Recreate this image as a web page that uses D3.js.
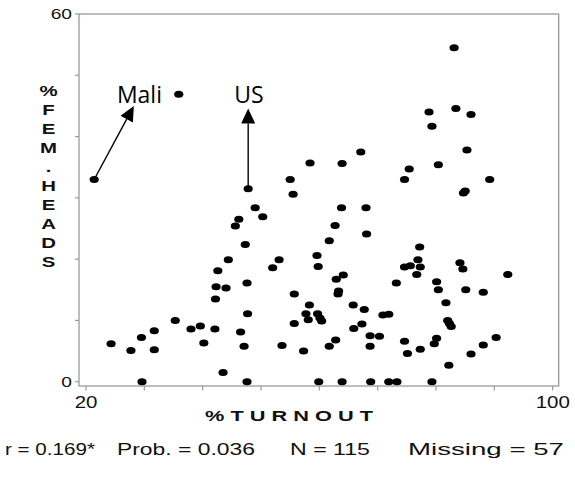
<!DOCTYPE html>
<html>
<head>
<meta charset="utf-8">
<script src="https://cdn.jsdelivr.net/npm/d3@7/dist/d3.min.js"></script>
<style>
  html, body { margin: 0; padding: 0; background: #fff; }
  svg { display: block; }
</style>
</head>
<body>
<svg id="chart" width="575" height="484"></svg>
<script>
// Turnout (%) vs. female-headed households (%), one dot per country
const turnout = [
  21.4, 35.9, 47.8, 46.2, 45.6, 47.3, 44.4, 42.6, 42.3, 44.0,
  47.6, 42.2, 47.7, 35.3, 38.0, 39.6, 42.1, 46.5, 31.7, 29.5,
  24.3, 27.7, 31.7, 40.2, 47.1, 43.5, 29.6, 47.6, 49.0, 50.3,
  52.0, 53.1, 55.7, 55.7, 53.6, 55.0, 55.5, 58.4, 63.9, 67.1,
  63.8, 68.0, 68.1, 62.7, 61.7, 59.6, 59.8, 64.1, 62.9, 63.3,
  63.2, 58.3, 57.7, 59.7, 58.1, 60.1, 60.4, 65.8, 67.7, 67.3,
  65.9, 57.3, 62.8, 61.7, 68.7, 70.3, 68.7, 59.9, 63.9, 68.8,
  75.4, 74.6, 80.4, 89.2, 84.7, 85.0, 77.2, 76.9, 74.6, 75.6,
  77.3, 76.7, 84.1, 84.6, 73.2, 80.1, 80.4, 85.1, 88.1, 81.7,
  70.9, 71.9, 82.0, 82.3, 82.6, 74.6, 75.1, 77.3, 80.1, 79.7,
  82.2, 86.0, 88.1, 90.3, 92.3, 71.9, 73.3, 79.3, 83.1, 78.8,
  83.4, 86.0, 79.3, 85.3
];
const femHeads = [
  33.0, 46.9, 31.5, 26.5, 25.4, 22.4, 19.9, 18.1, 15.5, 15.3,
  16.1, 13.5, 11.1, 10.0, 8.6, 9.1, 8.6, 8.1, 8.3, 7.2,
  6.2, 5.1, 5.2, 6.3, 5.8, 1.5, 0.0, 0.0, 28.4, 26.9,
  18.6, 19.9, 14.3, 9.5, 5.9, 33.0, 30.6, 35.7, 35.6, 37.5,
  28.4, 28.4, 24.1, 25.5, 23.0, 20.6, 18.8, 17.4, 16.7, 14.8,
  14.3, 12.5, 11.1, 11.1, 10.1, 10.4, 9.9, 12.5, 11.8, 9.4,
  8.7, 5.0, 6.8, 5.8, 7.5, 7.4, 5.8, 0.0, 0.0, 0.0,
  34.7, 33.0, 35.4, 33.0, 30.8, 31.1, 22.0, 19.9, 18.7, 18.9,
  18.7, 17.5, 19.4, 18.4, 16.1, 16.3, 15.0, 15.0, 14.6, 12.9,
  10.9, 11.0, 10.0, 9.5, 9.0, 6.6, 4.6, 5.3, 7.1, 6.2,
  2.7, 4.5, 6.0, 7.2, 17.5, 0.0, 0.0, 0.0, 54.5, 44.0,
  44.6, 43.6, 41.7, 37.8
];

// Axis ticks and the two labelled ends of each axis
const xTicks = [20, 30, 40, 50, 60, 70, 80, 90, 100];
const yTicks = [0, 10, 20, 30, 40, 50, 60];
const xTickLabels = [20, 100];
const yTickLabels = [0, 60];

// Titles and summary statistics
const xTitle = "% T U R N O U T";
const yTitleLetters = ["%", "F", "E", "M", ".", "H", "E", "A", "D", "S"];
const statLabels = ["r = 0.169*", "Prob. = 0.036", "N = 115", "Missing = 57"];

// Annotated countries: data point, arrow tip and label anchor (data units)
const annotations = [
  { name: "Mali", px: 21.4, py: 33.0, tipX: 28.2, tipY: 45.0, textX: 25.3, textY: 45.5 },
  { name: "US",   px: 47.8, py: 31.5, tipX: 47.8, tipY: 44.6, textX: 45.4, textY: 45.5 }
];

const points = turnout.map((t, i) => ({ x: t, y: femHeads[i] }));

const svg = d3.select("#chart");
const frame = { left: 79, right: 558.7, top: 14, bottom: 386 };
const x = d3.scaleLinear().domain([20, 100]).range([86, 552.7]);
const y = d3.scaleLinear().domain([0, 60]).range([381.7, 14]);

const SX = 1.28;          // horizontal stretch of the typeset labels
const sans = "'Liberation Sans', Arial, sans-serif";

function label(g, px, py, str, opts) {
  const o = Object.assign({ anchor: "start", size: 15, weight: "normal", sx: SX, family: sans }, opts || {});
  return g.append("text")
    .attr("transform", `translate(${px},${py}) scale(${o.sx},1)`)
    .attr("text-anchor", o.anchor)
    .attr("font-family", o.family)
    .attr("font-size", o.size)
    .attr("font-weight", o.weight)
    .attr("fill", "#111")
    .text(str);
}

// Text laid out to a given width
function fitted(g, px, py, str, width, opts) {
  const o = Object.assign({ anchor: "start", size: 17, weight: "normal" }, opts || {});
  return g.append("text")
    .attr("x", px).attr("y", py)
    .attr("text-anchor", o.anchor)
    .attr("font-family", sans)
    .attr("font-size", o.size)
    .attr("font-weight", o.weight)
    .attr("textLength", width)
    .attr("lengthAdjust", "spacingAndGlyphs")
    .attr("fill", "#111")
    .text(str);
}

// Frame
svg.append("rect")
  .attr("x", frame.left).attr("y", frame.top)
  .attr("width", frame.right - frame.left)
  .attr("height", frame.bottom - frame.top)
  .attr("fill", "none")
  .attr("stroke", "#9a9a9a")
  .attr("stroke-width", 1.3);

// Tick marks
const axisG = svg.append("g").attr("stroke", "#9a9a9a").attr("stroke-width", 1.2);
axisG.selectAll("line.xt").data(xTicks).join("line")
  .attr("class", "xt")
  .attr("x1", d => x(d)).attr("x2", d => x(d))
  .attr("y1", frame.bottom).attr("y2", frame.bottom + 4.5);
axisG.selectAll("line.yt").data(yTicks).join("line")
  .attr("class", "yt")
  .attr("x1", frame.left - 4).attr("x2", frame.left)
  .attr("y1", d => y(d)).attr("y2", d => y(d));

// Tick labels
const tl = svg.append("g");
yTickLabels.forEach(v => label(tl, 72, y(v) + 5.4, String(v), { anchor: "end", size: 15 }));
xTickLabels.forEach(v => label(tl, x(v), 408, String(v), { anchor: "middle", size: 16 }));

// Axis titles
fitted(svg, 205, 421, xTitle, 168, { size: 15, weight: "bold" });

// Vertical title, one stacked letter per row
const yTitleTop = 91, yTitleStep = 19;
const yt = svg.append("g");
yTitleLetters.forEach((ch, i) =>
  label(yt, 48.5, yTitleTop + i * yTitleStep + 5.4, ch, { anchor: "middle", size: 15, weight: "bold", sx: 1.36 }));

// Points
svg.append("g").selectAll("ellipse").data(points).join("ellipse")
  .attr("cx", d => x(d.x))
  .attr("cy", d => y(d.y))
  .attr("rx", 4.6)
  .attr("ry", 3.5)
  .attr("fill", "#000");

// Annotation arrows and country names
const ann = svg.append("g");
annotations.forEach(a => {
  const x0 = x(a.px), y0 = y(a.py), x1 = x(a.tipX), y1 = y(a.tipY);
  const dx = x1 - x0, dy = y1 - y0, len = Math.hypot(dx, dy);
  const ux = dx / len, uy = dy / len;
  const headLen = 15, headHalf = 7;
  const bx = x1 - ux * headLen, by = y1 - uy * headLen;
  ann.append("line")
    .attr("x1", x0).attr("y1", y0).attr("x2", bx).attr("y2", by)
    .attr("stroke", "#000").attr("stroke-width", 1.4);
  ann.append("polygon")
    .attr("points", [
      [x1, y1],
      [bx - uy * headHalf, by + ux * headHalf],
      [bx + uy * headHalf, by - ux * headHalf]
    ].map(p => p.join(",")).join(" "))
    .attr("fill", "#000");
  ann.append("text")
    .attr("x", x(a.textX)).attr("y", y(a.textY))
    .attr("font-family", "'Open Sans', 'Noto Sans', sans-serif")
    .attr("font-size", 23)
    .attr("fill", "#000")
    .text(a.name);
});

// Summary statistics line
const statX = [5, 117, 290, 408];
const statW = [90, 138, 80, 156];
const stats = svg.append("g");
statLabels.forEach((s, i) => fitted(stats, statX[i], 454.5, s, statW[i], { size: 17 }));
</script>
</body>
</html>
